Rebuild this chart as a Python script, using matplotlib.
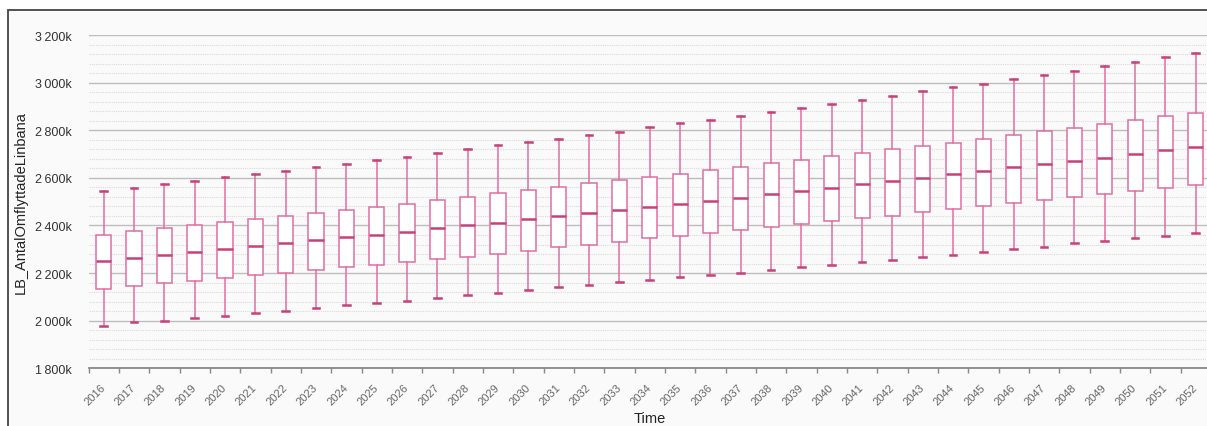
import numpy as np
import matplotlib
matplotlib.use('Agg')
import matplotlib.pyplot as plt
from matplotlib.patches import Rectangle
from matplotlib.ticker import FuncFormatter, MultipleLocator

plt.rcParams['font.family'] = ['Liberation Sans', 'DejaVu Sans']

# values in thousands
years = list(range(2016, 2053))
whisker_low = [1979, 1995, 2000, 2011, 2021, 2032, 2041, 2055, 2066, 2076,
               2084, 2095, 2107, 2116, 2130, 2142, 2151, 2161, 2171, 2182,
               2192, 2202, 2212, 2224, 2233, 2247, 2256, 2268, 2276, 2290,
               2301, 2311, 2325, 2336, 2346, 2356, 2370]
q1 = [2133, 2144, 2157, 2167, 2178, 2191, 2200, 2212, 2226, 2235,
      2245, 2259, 2269, 2282, 2294, 2308, 2317, 2332, 2346, 2354,
      2367, 2380, 2392, 2405, 2417, 2430, 2440, 2455, 2468, 2480,
      2493, 2506, 2518, 2532, 2546, 2556, 2571]
median = [2249, 2265, 2275, 2289, 2300, 2312, 2325, 2338, 2350, 2360,
          2374, 2388, 2401, 2412, 2426, 2438, 2452, 2466, 2479, 2490,
          2504, 2517, 2531, 2545, 2559, 2573, 2587, 2599, 2618, 2630,
          2644, 2658, 2671, 2685, 2699, 2716, 2730]
q3 = [2361, 2375, 2389, 2403, 2413, 2426, 2440, 2454, 2466, 2476,
      2492, 2508, 2521, 2536, 2550, 2563, 2577, 2591, 2604, 2618,
      2632, 2646, 2664, 2676, 2692, 2704, 2720, 2735, 2748, 2765,
      2779, 2795, 2811, 2826, 2842, 2858, 2874]
whisker_high = [2545, 2559, 2573, 2588, 2602, 2618, 2630, 2644, 2658, 2675,
                2689, 2706, 2720, 2737, 2749, 2763, 2780, 2794, 2812, 2829,
                2842, 2858, 2877, 2895, 2912, 2928, 2945, 2963, 2980, 2996,
                3014, 3031, 3049, 3068, 3087, 3106, 3124]

BOX_COLOR = '#e06fa2'
MED_COLOR = '#c8407a'

W, H = 1207, 427
fig = plt.figure(figsize=(W / 100, H / 100), dpi=100)
fig.patch.set_facecolor('white')

# panel frame (only left and top edges fall inside the crop)
frame = Rectangle((8 / W, -0.5), 2.0, (H - 11) / H + 0.5, transform=fig.transFigure,
                  facecolor='#fafafa', edgecolor='#444444', linewidth=1.3, zorder=-10)
fig.add_artist(frame)

ax = fig.add_axes([88.5 / W, 57.7 / H, (1211 - 88.5) / W, (369.3 - 36) / H])
ax.set_facecolor('none')
ax.set_zorder(5)

stats = []
for i, y in enumerate(years):
    stats.append({'whislo': whisker_low[i], 'q1': q1[i], 'med': median[i],
                  'q3': q3[i], 'whishi': whisker_high[i], 'fliers': [],
                  'label': str(y)})
pos = np.arange(len(years))
ax.bxp(stats, positions=pos, widths=0.5, showfliers=False, patch_artist=True,
       boxprops=dict(facecolor='white', edgecolor=BOX_COLOR, linewidth=1.1),
       whiskerprops=dict(color=BOX_COLOR, linewidth=1.1),
       capprops=dict(color=MED_COLOR, linewidth=1.8),
       medianprops=dict(color=MED_COLOR, linewidth=1.8),
       capwidths=0.22)

ax.set_xlim(-0.5, len(years) - 0.5)
ax.set_ylim(1800, 3200)
ax.yaxis.set_major_locator(MultipleLocator(200))
ax.yaxis.set_minor_locator(MultipleLocator(40))
ax.yaxis.set_major_formatter(FuncFormatter(
    lambda v, p: '{:,}k'.format(int(v)).replace(',', '\u2009')))
ax.grid(axis='y', which='major', color='#bdbdbd', linewidth=1.0)
ax.grid(axis='y', which='minor', color='#dadada', linewidth=0.8, linestyle=(0, (1, 1)))
ax.set_axisbelow(True)

ax.set_xticks(pos)
ax.set_xticklabels([str(y) for y in years], rotation=45, ha='right', va='center',
                   rotation_mode='anchor', fontsize=8, color='#666666')
ax.set_xticks(np.arange(len(years) + 1) - 0.5, minor=True)
ax.tick_params(axis='x', which='major', length=0, pad=12)
ax.tick_params(axis='x', which='minor', length=3.5, color='#888888', width=1)
ax.tick_params(axis='y', which='both', length=0, pad=12, labelsize=9, labelcolor='#333333')

for sp in ('top', 'right', 'left'):
    ax.spines[sp].set_visible(False)
ax.spines['bottom'].set_color('#888888')
ax.spines['bottom'].set_linewidth(1.3)

ax.set_xlabel('Time', fontsize=10.5, color='#222222', labelpad=0)
ax.xaxis.set_label_coords((650 - 88.5) / (1211 - 88.5), -0.128)
ax.set_ylabel('LB_AntalOmflyttadeLinbana', fontsize=10.5, color='#222222')
ax.yaxis.set_label_coords(-(88.5 - 28) / (1211 - 88.5), 0.5)

fig.savefig('out.png', dpi=100)
